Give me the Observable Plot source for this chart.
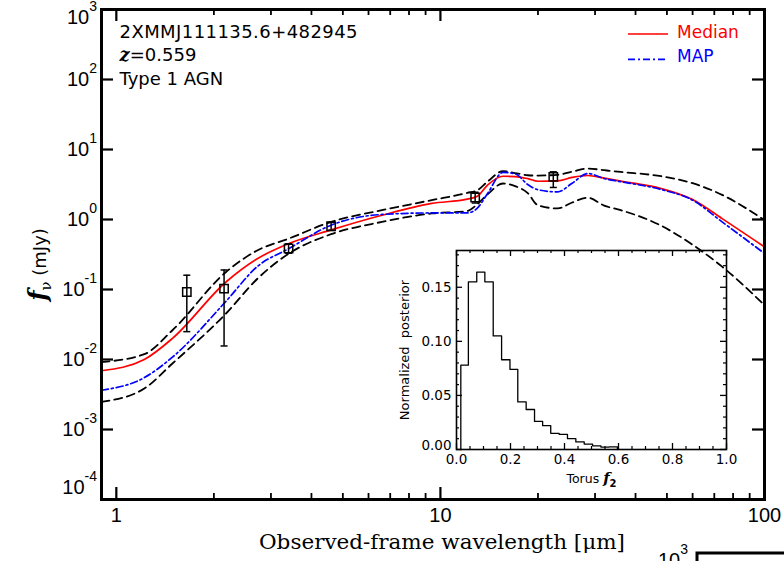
<!DOCTYPE html>
<html><head><meta charset="utf-8">
<script src="https://cdn.jsdelivr.net/npm/d3@7"></script>
<script src="https://cdn.jsdelivr.net/npm/@observablehq/plot@0.6"></script>
<style>
html,body{margin:0;padding:0;background:#fff;overflow:hidden;width:784px;height:561px;}
#wrap{position:relative;width:784px;height:561px;overflow:hidden;background:#fff;}
#wrap svg{display:block;}
#main{position:absolute;left:0;top:0;}
#inset{position:absolute;left:390px;top:240px;}
#overlay{position:absolute;left:0;top:0;pointer-events:none;}
</style></head><body>
<div id="wrap"><div id="main"></div><div id="inset"></div></div>
<script>
// ---------- data ----------
const wavelength = [0.9, 1.22, 1.49, 2.18, 2.73, 3.41, 4.6, 6.6, 9.4, 12.1, 13.0, 14.0, 15.6, 17.0, 18.6, 20.0, 23.0, 25.5, 28.5, 32.0, 36.0, 48.0, 60.0, 74.0, 100];
const median   = [0.0069, 0.0100, 0.020, 0.128, 0.277, 0.454, 0.71, 1.15, 1.70, 1.95, 2.15, 3.12, 4.15, 4.11, 3.84, 3.52, 3.56, 3.99, 4.25, 3.90, 3.54, 2.77, 1.93, 1.03, 0.406];
const mapFit   = [0.00364, 0.0055, 0.0108, 0.068, 0.215, 0.385, 0.83, 1.18, 1.24, 1.24, 1.45, 2.38, 4.7, 4.5, 3.16, 2.66, 2.48, 3.3, 4.54, 3.85, 3.47, 2.68, 1.89, 0.925, 0.327];
const upper    = [0.0092, 0.0119, 0.0262, 0.178, 0.364, 0.535, 0.924, 1.36, 1.89, 2.4, 2.62, 3.5, 4.9, 4.6, 4.29, 4.24, 4.35, 4.82, 5.35, 5.06, 4.78, 4.15, 3.3, 2.25, 0.977];
const lower    = [0.00248, 0.00385, 0.00877, 0.0454, 0.1436, 0.327, 0.617, 0.924, 1.22, 1.32, 1.65, 2.3, 3.27, 3.0, 2.38, 1.6, 1.44, 1.75, 2.05, 1.58, 1.36, 0.815, 0.435, 0.212, 0.0597];

const photLambda = [1.65, 2.15, 3.4, 4.6, 12.8, 22.3];
const photFlux   = [0.092, 0.103, 0.385, 0.80, 2.06, 4.06];
const photLo     = [0.025, 0.0156, 0.33, 0.70, 1.72, 2.87];
const photHi     = [0.16, 0.19, 0.45, 0.91, 2.45, 4.8];

const xMajor = [1, 10, 100];
const xMinor = [2, 3, 4, 5, 6, 7, 8, 9, 20, 30, 40, 50, 60, 70, 80, 90];
const yMajor = [1e-4, 1e-3, 1e-2, 1e-1, 1, 10, 100, 1000];
const yExponents = ["-4", "-3", "-2", "-1", "0", "1", "2", "3"];

const seriesNames = ["Median", "MAP"];
const objectName = "2XMMJ111135.6+482945";
const redshiftText = "=0.559";
const typeText = "Type 1 AGN";
const xTitle = "Observed-frame wavelength [μm]";
const yTitleUnit = " (mJy)";

// inset histogram (Torus f2 posterior)
const binEdges   = [0.016, 0.044, 0.075, 0.105, 0.136, 0.167, 0.198, 0.227, 0.258, 0.289, 0.319, 0.349, 0.380, 0.411, 0.442, 0.473, 0.504, 0.535, 0.565, 0.596];
const binHeights = [0.078, 0.155, 0.164, 0.155, 0.105, 0.083, 0.074, 0.044, 0.037, 0.026, 0.022, 0.015, 0.014, 0.010, 0.007, 0.005, 0.0034, 0.0022, 0.0025];
const insetXMajor = [0, 0.2, 0.4, 0.6, 0.8, 1.0];
const insetXMinor = [0.05, 0.1, 0.15, 0.25, 0.3, 0.35, 0.45, 0.5, 0.55, 0.65, 0.7, 0.75, 0.85, 0.9, 0.95];
const insetYMajor = [0, 0.05, 0.10, 0.15];
const insetYMinor = [0.01, 0.02, 0.03, 0.04, 0.06, 0.07, 0.08, 0.09, 0.11, 0.12, 0.13, 0.14, 0.16, 0.17, 0.18];
const insetXLabels = ["0.0", "0.2", "0.4", "0.6", "0.8", "1.0"];
const insetYLabels = ["0.00", "0.05", "0.10", "0.15"];

// ---------- build ----------
const sans = "'DejaVu Sans', sans-serif";
const tickFont = "'Liberation Sans', Arial, sans-serif";
const serif = "'DejaVu Serif', serif";

const curveRows = wavelength.map((w, i) => ({w, median: median[i], map: mapFit[i], upper: upper[i], lower: lower[i]}));
const phot = photLambda.map((w, i) => ({w, f: photFlux[i], lo: photLo[i], hi: photHi[i]}));
const cap = {draw(ctx, size) { const r = Math.sqrt(size / Math.PI); ctx.moveTo(-r, 0); ctx.lineTo(r, 0); }};

const W = 784, H = 561, mL = 101, mR = 20, mT = 9, mB = 62;
const FW = W - mL - mR, FH = H - mT - mB;

const main = Plot.plot({
  width: W, height: H, marginLeft: mL, marginRight: mR, marginTop: mT, marginBottom: mB,
  x: {type: "log", domain: [0.9, 100], axis: null},
  y: {type: "log", domain: [1e-4, 1e3], axis: null},
  style: {background: "white", overflow: "visible"},
  marks: [
    Plot.line(curveRows, {x: "w", y: "upper", stroke: "black", strokeWidth: 1.8, strokeDasharray: "8,5", curve: "monotone-x"}),
    Plot.line(curveRows, {x: "w", y: "lower", stroke: "black", strokeWidth: 1.8, strokeDasharray: "8,5", curve: "monotone-x"}),
    Plot.line(curveRows, {x: "w", y: "median", stroke: "#ff0000", strokeWidth: 1.7, curve: "monotone-x"}),
    Plot.line(curveRows, {x: "w", y: "map", stroke: "#0000ff", strokeWidth: 1.7, strokeDasharray: "7,3,2,3", curve: "monotone-x"}),
    Plot.ruleX(phot, {x: "w", y1: "lo", y2: "hi", stroke: "black", strokeWidth: 1.5}),
    Plot.dot(phot, {x: "w", y: "lo", symbol: cap, r: 3.5, stroke: "black", fill: "none", strokeWidth: 1.5}),
    Plot.dot(phot, {x: "w", y: "hi", symbol: cap, r: 3.5, stroke: "black", fill: "none", strokeWidth: 1.5}),
    Plot.dot(phot, {x: "w", y: "f", symbol: "square", r: 4.7, stroke: "black", fill: "none", strokeWidth: 1.5}),
    Plot.ruleX(xMajor, {x: d => d, insetTop: FH - 12, stroke: "black", strokeWidth: 2.2}),
    Plot.ruleX(xMajor, {x: d => d, insetBottom: FH - 12, stroke: "black", strokeWidth: 2.2}),
    Plot.ruleX(xMinor, {x: d => d, insetTop: FH - 6, stroke: "black", strokeWidth: 1.8}),
    Plot.ruleX(xMinor, {x: d => d, insetBottom: FH - 6, stroke: "black", strokeWidth: 1.8}),
    Plot.ruleY(yMajor, {y: d => d, insetRight: FW - 12, stroke: "black", strokeWidth: 2.2}),
    Plot.ruleY(yMajor, {y: d => d, insetLeft: FW - 12, stroke: "black", strokeWidth: 2.2}),
    Plot.frame({stroke: "black", strokeWidth: 3}),
    // text marks (order matters for rich-text post-processing below)
    Plot.text(xMajor, {x: d => d, text: d => String(d), frameAnchor: "bottom", dy: 22, fontSize: 20, fontFamily: tickFont}),
    Plot.text(yMajor, {y: d => d, text: (d, i) => yExponents[i], frameAnchor: "left", dx: -4.5, textAnchor: "end", fontSize: 20, fontFamily: tickFont}),
    Plot.text([xTitle], {frameAnchor: "bottom", dy: 49.5, dx: 9, textAnchor: "middle", fontSize: 20, fontFamily: serif}),
    Plot.text([yTitleUnit], {frameAnchor: "left", rotate: -90, dx: -61, dy: 10, textAnchor: "middle", fontSize: 18, fontFamily: sans}),
    Plot.text([objectName], {frameAnchor: "top-left", dx: 18, dy: 16, lineAnchor: "top", fontSize: 18, fontFamily: sans}),
    Plot.text([redshiftText], {frameAnchor: "top-left", dx: 18, dy: 39, lineAnchor: "top", fontSize: 18, fontFamily: sans}),
    Plot.text([typeText], {frameAnchor: "top-left", dx: 18, dy: 63, lineAnchor: "top", fontSize: 18, fontFamily: sans})
  ]
});

// inset
const histRows = [binEdges[0], ...binEdges].map((x, i) => ({x, y: i === 0 || i === binEdges.length ? 0 : binHeights[i - 1]}));
const IW = 340, IH = 260, iL = 66, iR = 4, iT = 10, iB = 51;
const IFW = IW - iL - iR, IFH = IH - iT - iB;
const inset = Plot.plot({
  width: IW, height: IH, marginLeft: iL, marginRight: iR, marginTop: iT, marginBottom: iB,
  x: {domain: [0, 1], axis: null},
  y: {domain: [0, 0.184], axis: null},
  style: {background: "transparent", overflow: "visible"},
  marks: [
    Plot.line(histRows, {x: "x", y: "y", curve: "step-after", stroke: "black", strokeWidth: 1.3}),
    Plot.ruleX(insetXMajor, {x: d => d, insetTop: IFH - 6, stroke: "black", strokeWidth: 1.3}),
    Plot.ruleX(insetXMajor, {x: d => d, insetBottom: IFH - 6, stroke: "black", strokeWidth: 1.3}),
    Plot.ruleX(insetXMinor, {x: d => d, insetTop: IFH - 3, stroke: "black", strokeWidth: 1.2}),
    Plot.ruleX(insetXMinor, {x: d => d, insetBottom: IFH - 3, stroke: "black", strokeWidth: 1.2}),
    Plot.ruleY(insetYMajor, {y: d => d, insetRight: IFW - 6, stroke: "black", strokeWidth: 1.3}),
    Plot.ruleY(insetYMajor, {y: d => d, insetLeft: IFW - 6, stroke: "black", strokeWidth: 1.3}),
    Plot.ruleY(insetYMinor, {y: d => d, insetRight: IFW - 3, stroke: "black", strokeWidth: 1.2}),
    Plot.ruleY(insetYMinor, {y: d => d, insetLeft: IFW - 3, stroke: "black", strokeWidth: 1.2}),
    Plot.frame({stroke: "black", strokeWidth: 1.6}),
    Plot.text(insetXMajor, {x: d => d, text: (d, i) => insetXLabels[i], frameAnchor: "bottom", dy: 14, fontSize: 13.5, fontFamily: sans}),
    Plot.text(insetYMajor, {y: d => d, text: (d, i) => insetYLabels[i], frameAnchor: "left", dx: -5, textAnchor: "end", fontSize: 13.5, fontFamily: sans}),
    Plot.text(["Normalized  posterior"], {frameAnchor: "left", rotate: -90, dx: -51.7, textAnchor: "middle", fontSize: 13, fontFamily: sans}),
    Plot.text(["Torus"], {frameAnchor: "bottom", dy: 33, textAnchor: "middle", fontSize: 12.5, fontFamily: sans})
  ]
});

document.getElementById("main").appendChild(main);
document.getElementById("inset").appendChild(inset);

// locate text-mark groups (groups containing only <text>) in mark order
function textGroups(svg) {
  return Array.from(svg.children).filter(g => g.tagName.toLowerCase() === "g" && g.querySelector("text") && !g.querySelector("path,line,rect,circle"));
}
const mg = textGroups(main);   // [xtick, ytick, xtitle, ytitle, obj, z, type]
const ig = textGroups(inset);  // [ixtick, iytick, iytitle, ixtitle]

d3.select(mg[1]).selectAll("text").each(function () {
  const e = this.textContent;
  const t = d3.select(this).text(null);
  const shift = e === "3" ? 8 : e === "-4" ? -12 : 0;
  t.append("tspan").attr("dy", shift).text("10");
  t.append("tspan").attr("dy", -13).attr("font-size", 14).text(e);
});
d3.select(mg[2]).selectAll("text").attr("textLength", 366).attr("lengthAdjust", "spacingAndGlyphs");
d3.select(mg[3]).selectAll("text").each(function () {
  const u = this.textContent;
  const t = d3.select(this).text(null);
  t.append("tspan").attr("font-family", serif).attr("font-style", "italic").attr("font-weight", "bold").attr("font-size", 24).text("f");
  t.append("tspan").attr("font-family", serif).attr("font-size", 15).attr("dy", 5).text("ν");
  t.append("tspan").attr("dy", -5).text(u);
});
d3.select(mg[4]).selectAll("text").attr("textLength", 238).attr("lengthAdjust", "spacing");
d3.select(mg[5]).selectAll("text").each(function () {
  const u = this.textContent;
  const t = d3.select(this).text(null);
  t.append("tspan").attr("font-family", serif).attr("font-style", "italic").attr("font-weight", "bold").text("z");
  t.append("tspan").text(u);
});
d3.select(ig[1]).selectAll("text").each(function () {
  if (this.textContent === "0.00") {
    const tr = this.getAttribute("transform");
    if (tr) this.setAttribute("transform", tr + " translate(0,-4)");
    else this.setAttribute("y", (+this.getAttribute("y") || 0) - 4);
  }
});
d3.select(ig[3]).selectAll("text").each(function () {
  const u = this.textContent;
  const t = d3.select(this).text(null);
  t.append("tspan").text(u + " ");
  t.append("tspan").attr("font-family", serif).attr("font-style", "italic").attr("font-weight", "bold").attr("font-size", 15).text("f");
  t.append("tspan").attr("font-size", 10).attr("font-weight", "bold").attr("dy", 4).text("2");
});

// legend and cut-off neighbouring panel corner (overlay)
const ov = d3.select("#wrap").append("svg").attr("id", "overlay").attr("width", W).attr("height", H);
const legendColors = ["#ff0000", "#0000ff"];
const legendDash = [null, "7,3,2,3"];
seriesNames.forEach((name, i) => {
  const yLine = 34 + i * 25.3, yText = 37.7 + i * 24;
  ov.append("line").attr("x1", 628).attr("x2", 668).attr("y1", yLine).attr("y2", yLine)
    .attr("stroke", legendColors[i]).attr("stroke-width", 1.7).attr("stroke-dasharray", legendDash[i]);
  ov.append("text").attr("x", 677).attr("y", yText).attr("fill", legendColors[i])
    .attr("font-size", 17).attr("font-family", sans).text(name);
});
const nt = ov.append("text").attr("x", 658).attr("y", 567).attr("font-size", 20).attr("font-family", tickFont);
nt.append("tspan").text("10");
nt.append("tspan").attr("dy", -13).attr("font-size", 14).text("3");
ov.append("polyline").attr("points", "697,565 697,553 784,553").attr("fill", "none").attr("stroke", "black").attr("stroke-width", 3);
</script>
</body></html>
